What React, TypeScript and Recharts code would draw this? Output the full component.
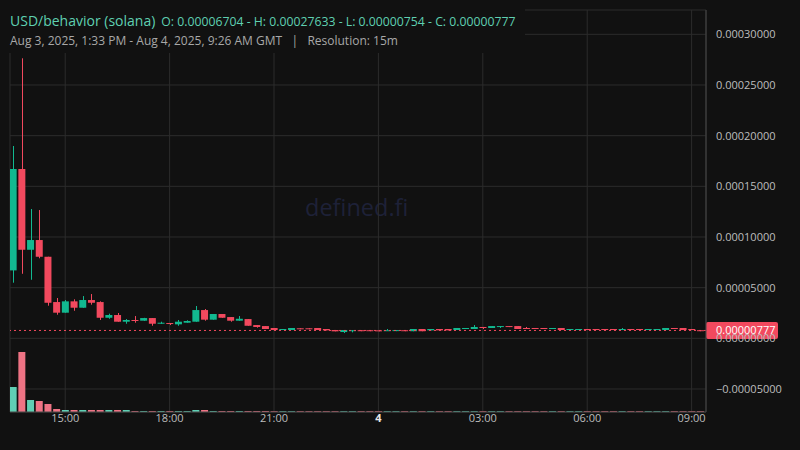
import { ComposedChart, Bar, Cell, XAxis, YAxis, CartesianGrid, ReferenceLine } from "recharts";

// 15m candles, Aug 3 13:30 -> Aug 4 09:15 GMT
const opens = [
  0.00006704, 0.0001671, 0.0000874, 0.000097, 0.0000805, 0.0000358, 0.0000253, 0.0000365, 0.0000302, 0.0000378,
  0.0000358, 0.0000203, 0.000023, 0.0000164, 0.0000181, 0.0000174, 0.00002, 0.0000144, 0.0000151, 0.0000138,
  0.0000154, 0.0000164, 0.0000279, 0.0000184, 0.000024, 0.000021, 0.0000174, 0.000019, 0.0000131, 0.0000121,
  0.0000102, 0.0000085, 0.0000082, 0.0000099, 0.0000099, 0.0000102, 0.0000092, 0.0000082, 0.0000062, 0.0000078,
  0.000008, 0.000008, 0.0000079, 0.0000078, 0.0000078, 0.000008, 0.000007, 0.0000092, 0.0000079, 0.0000092,
  0.0000092, 0.0000082, 0.0000095, 0.0000092, 0.0000112, 0.0000102, 0.0000112, 0.0000121, 0.0000121, 0.0000102,
  0.0000102, 0.0000102, 0.0000092, 0.0000102, 0.0000082, 0.0000082, 0.0000092, 0.0000092, 0.0000092, 0.0000092,
  0.0000082, 0.0000092, 0.0000092, 0.0000082, 0.0000082, 0.0000082, 0.0000102, 0.0000102, 0.0000092, 0.000008,
];
const highs = [
  0.0001898, 0.00027633, 0.0001276, 0.0001266, 0.0000805, 0.0000398, 0.0000378, 0.0000385, 0.0000417, 0.0000437,
  0.0000365, 0.0000243, 0.000025, 0.000019, 0.000022, 0.0000202, 0.00002, 0.0000164, 0.0000151, 0.0000181,
  0.0000178, 0.0000319, 0.0000289, 0.000024, 0.000024, 0.000021, 0.000022, 0.000019, 0.0000131, 0.0000121,
  0.0000102, 0.0000092, 0.0000102, 0.0000099, 0.0000099, 0.0000102, 0.0000092, 0.0000082, 0.0000082, 0.000008,
  0.000008, 0.000008, 0.0000079, 0.0000092, 0.0000081, 0.000008, 0.0000092, 0.0000092, 0.0000092, 0.0000092,
  0.0000092, 0.0000102, 0.0000102, 0.0000131, 0.0000112, 0.0000121, 0.0000121, 0.0000121, 0.0000121, 0.0000112,
  0.0000102, 0.0000102, 0.0000102, 0.0000102, 0.0000092, 0.0000092, 0.0000092, 0.0000092, 0.0000092, 0.0000092,
  0.0000102, 0.0000092, 0.0000092, 0.0000092, 0.0000092, 0.0000102, 0.0000102, 0.0000102, 0.0000092, 0.000008,
];
const lows = [
  0.0000549, 0.0000637, 0.0000578, 0.000079, 0.0000322, 0.0000233, 0.0000253, 0.0000272, 0.0000302, 0.0000332,
  0.0000181, 0.0000193, 0.0000164, 0.0000144, 0.0000154, 0.0000173, 0.0000124, 0.0000143, 0.0000131, 0.0000124,
  0.0000154, 0.0000164, 0.0000174, 0.0000184, 0.0000203, 0.0000164, 0.0000174, 0.0000124, 0.0000105, 0.0000092,
  0.0000082, 0.0000085, 0.0000082, 0.0000097, 0.0000096, 0.0000082, 0.0000079, 0.0000069, 0.0000052, 0.0000059,
  0.0000078, 0.0000078, 0.0000077, 0.0000078, 0.0000078, 0.0000078, 0.000007, 0.000007, 0.0000079, 0.0000079,
  0.0000079, 0.0000082, 0.0000095, 0.0000092, 0.0000092, 0.0000102, 0.0000102, 0.0000112, 0.0000092, 0.0000092,
  0.0000092, 0.0000092, 0.0000092, 0.0000082, 0.0000082, 0.0000082, 0.0000082, 0.0000082, 0.0000082, 0.0000082,
  0.0000082, 0.0000082, 0.0000082, 0.0000082, 0.0000082, 0.0000082, 0.0000092, 0.0000082, 0.0000082, 0.00000754,
];
const closes = [
  0.0001671, 0.0000874, 0.000097, 0.0000805, 0.0000351, 0.0000253, 0.0000365, 0.0000302, 0.0000378, 0.0000351,
  0.0000203, 0.000023, 0.0000164, 0.0000181, 0.0000171, 0.00002, 0.0000144, 0.0000154, 0.0000144, 0.0000164,
  0.0000171, 0.0000279, 0.0000184, 0.000024, 0.0000203, 0.0000174, 0.0000193, 0.0000124, 0.0000112, 0.0000092,
  0.0000082, 0.0000092, 0.0000102, 0.0000097, 0.0000096, 0.0000082, 0.0000079, 0.0000069, 0.0000082, 0.000008,
  0.0000078, 0.0000078, 0.0000077, 0.000008, 0.0000081, 0.0000078, 0.0000092, 0.000007, 0.0000092, 0.0000079,
  0.0000079, 0.0000102, 0.0000102, 0.0000112, 0.0000102, 0.0000121, 0.0000121, 0.0000112, 0.0000092, 0.0000092,
  0.0000092, 0.0000092, 0.0000102, 0.0000082, 0.0000092, 0.0000092, 0.0000082, 0.0000082, 0.0000082, 0.0000082,
  0.0000092, 0.0000082, 0.0000082, 0.0000092, 0.0000092, 0.0000102, 0.0000092, 0.0000082, 0.0000082, 0.00000777,
];
const volumes = [
  25, 60, 12, 11, 8, 3, 2, 2, 2, 2,
  2, 2, 2, 2, 1, 1, 1, 1, 1, 1,
  1, 2, 2, 1, 1, 1, 1, 1, 1, 1,
  0.8, 0.8, 0.8, 0.8, 0.8, 0.8, 0.8, 0.8, 0.8, 0.8,
  0.8, 0.8, 0.8, 0.8, 0.8, 0.8, 0.8, 0.8, 0.8, 0.8,
  0.8, 0.8, 0.8, 0.8, 0.8, 0.8, 0.8, 0.8, 0.8, 0.8,
  0.8, 0.8, 0.8, 0.8, 0.8, 0.8, 0.8, 0.8, 0.8, 0.8,
  0.8, 0.8, 0.8, 0.8, 0.8, 0.8, 0.8, 0.8, 0.8, 0.8,
];

const timeTicks = [6, 18, 30, 42, 54, 66, 78];
const timeLabels = ["15:00", "18:00", "21:00", "4", "03:00", "06:00", "09:00"];
const priceTicks = [-0.00005, 0, 0.00005, 0.0001, 0.00015, 0.0002, 0.00025, 0.0003];
const lastPrice = 0.00000777;

const BG = "#111111";
const UP = "#12b990";
const DOWN = "#f2495e";
const VOL_UP = "#5fcfb4";
const VOL_DOWN = "#ee7384";
const GRID = "#2c2c2c";
const AXIS = "#464646";
const TEXT = "#bdbdbd";
const FONT = "'Open Sans', 'Noto Sans', sans-serif";

const data = opens.map((o, i) => ({
  i,
  open: o,
  high: highs[i],
  low: lows[i],
  close: closes[i],
  volume: volumes[i],
}));

const volTop = (Math.max(...volumes) * 402) / 60;

function Candle(props: any) {
  const { x, y, width, height, payload } = props;
  const { open, close, high, low } = payload;
  const top0 = Math.min(y, y + height);
  const h = Math.abs(height);
  const span = high - low;
  const toY = (v: number) => (span > 0 ? top0 + ((high - v) / span) * h : top0);
  const bTop = toY(Math.max(open, close));
  const bBot = toY(Math.min(open, close));
  const color = close >= open ? UP : DOWN;
  const cx = Math.round(x + width / 2) + 0.5;
  return (
    <g>
      <line x1={cx} x2={cx} y1={top0} y2={top0 + Math.max(h, 1)} stroke={color} strokeWidth={1} />
      <rect x={x} y={bTop} width={width} height={Math.max(1, bBot - bTop)} fill={color} />
    </g>
  );
}

function PriceTag(props: any) {
  const vb = props.viewBox || {};
  const x = vb.x + vb.width;
  const y = vb.y;
  return (
    <g>
      <rect x={x} y={y - 8.5} width={72} height={17} rx={2} fill={DOWN} />
      <text x={x + 10} y={y + 4} fill="#ffffff" fontSize={11} fontFamily={FONT}>
        {lastPrice.toFixed(8)}
      </text>
    </g>
  );
}

function TimeTick(props: any) {
  const { x, y, payload } = props;
  const label = timeLabels[timeTicks.indexOf(payload.value)];
  const isDay = label === "4";
  return (
    <text
      x={x}
      y={y + 8}
      textAnchor="middle"
      fill={isDay ? "#e6e6e6" : TEXT}
      fontWeight={isDay ? 700 : 400}
      fontSize={11}
      fontFamily={FONT}
    >
      {label}
    </text>
  );
}

const fmtPrice = (v: number) => (v < 0 ? "\u2212" + Math.abs(v).toFixed(8) : v.toFixed(8));

export default function App() {
  return (
    <div style={{ position: "fixed", left: 0, top: 0, width: 800, height: 450, background: BG, overflow: "hidden" }}>
      <div
        style={{
          position: "absolute",
          left: 305,
          top: 191,
          fontSize: 23.5,
          color: "#1e2138",
          fontFamily: FONT,
        }}
      >
        defined.fi
      </div>
      <div style={{ position: "absolute", left: 0, top: 0 }}>
        <ComposedChart width={800} height={450} data={data} margin={{ top: 10, right: 0, bottom: 0, left: 10 }}>
          <CartesianGrid stroke={GRID} vertical horizontal />
          <XAxis
            type="number"
            dataKey="i"
            domain={[-0.345, 79.655]}
            allowDataOverflow
            ticks={timeTicks}
            tick={<TimeTick />}
            tickLine={false}
            tickSize={0}
            height={38}
            axisLine={{ stroke: AXIS }}
          />
          <XAxis xAxisId="v" type="number" dataKey="i" domain={[-0.345, 79.655]} allowDataOverflow hide />
          <YAxis
            orientation="right"
            width={94}
            domain={[-0.0000727, 0.000324]}
            allowDataOverflow
            ticks={priceTicks}
            tickFormatter={fmtPrice}
            tickLine={false}
            tickSize={0}
            tickMargin={10}
            axisLine={{ stroke: AXIS }}
            tick={{ fill: TEXT, fontSize: 11, fontFamily: FONT }}
          />
          <YAxis yAxisId="v" domain={[0, volTop]} hide />
          <Bar
            xAxisId="v"
            yAxisId="v"
            dataKey="volume"
            barSize={7}
            isAnimationActive={false}
          >
            {data.map((d) => (
              <Cell key={d.i} fill={d.close >= d.open ? VOL_UP : VOL_DOWN} />
            ))}
          </Bar>
          <Bar
            dataKey={(d: any) => [d.low, d.high]}
            barSize={7}
            shape={<Candle />}
            isAnimationActive={false}
          />
          <ReferenceLine y={lastPrice} stroke={DOWN} strokeDasharray="2 3" label={<PriceTag />} />
        </ComposedChart>
      </div>
      <div
        style={{
          position: "absolute",
          left: 0,
          top: 0,
          width: 525,
          height: 53,
          background: BG,
          fontFamily: FONT,
        }}
      >
        <div style={{ position: "absolute", left: 10, top: 9, whiteSpace: "nowrap", color: "#5fd0b1" }}>
          <span style={{ fontSize: 14 }}>USD/behavior (solana)</span>
          <span style={{ fontSize: 12.25, marginLeft: 6 }}>
            O: 0.00006704 - H: 0.00027633 - L: 0.00000754 - C: 0.00000777
          </span>
        </div>
        <div style={{ position: "absolute", left: 10, top: 32, whiteSpace: "nowrap", color: "#a8a8a8", fontSize: 12 }}>
          Aug 3, 2025, 1:33 PM - Aug 4, 2025, 9:26 AM GMT&nbsp;&nbsp;&nbsp;|&nbsp;&nbsp;&nbsp;Resolution: 15m
        </div>
      </div>
    </div>
  );
}
